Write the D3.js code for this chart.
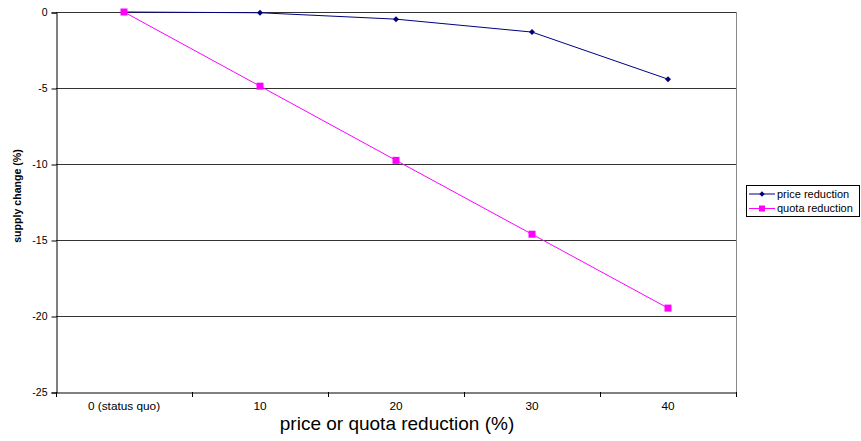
<!DOCTYPE html>
<html><head><meta charset="utf-8">
<script src="https://cdn.jsdelivr.net/npm/d3@7"></script>
<style>body{margin:0;background:#fff}svg{display:block;font-family:Arial,"Liberation Sans",sans-serif}</style>
</head><body><svg id="c" width="861" height="441"></svg>
<script>
const categories = ["0 (status quo)", "10", "20", "30", "40"];
const priceReduction = [0, -0.05, -0.47, -1.32, -4.42];
const quotaReduction = [0, -4.88, -9.76, -14.62, -19.48];
const yTicks = [0, -5, -10, -15, -20, -25];
const seriesNames = ["price reduction", "quota reduction"];

const svg = d3.select("#c");
const FF = "Arial, Liberation Sans, sans-serif";
const L = 56, R = 736, T = 12, B = 392;
const x = d3.scaleBand().domain(categories).range([L, R]);
const y = d3.scaleLinear().domain([-25, 0]).range([B, T]);

// gridlines
svg.append("g").selectAll("line").data(yTicks.filter(d => d !== -25)).join("line")
  .attr("x1", L).attr("x2", R).attr("y1", d => Math.round(y(d)) + 0.5).attr("y2", d => Math.round(y(d)) + 0.5)
  .attr("stroke", "#333").attr("stroke-width", 1);
// right border
svg.append("line").attr("x1", R + 0.5).attr("x2", R + 0.5).attr("y1", T).attr("y2", B)
  .attr("stroke", "#888");

// y axis
const ya = svg.append("g").attr("transform", `translate(${L + 0.5},0.5)`)
  .call(d3.axisLeft(y).tickValues(yTicks).tickSize(5).tickPadding(4).tickFormat(d => String(d)));
ya.select(".domain").attr("stroke", "#000");
ya.selectAll("text").attr("font-size", 10.5).attr("font-family", FF).attr("fill", "#000");

// x axis
const xa = svg.append("g").attr("transform", `translate(0,${B + 0.5})`)
  .call(d3.axisBottom(x).tickSize(0).tickPadding(9));
xa.select(".domain").attr("stroke", "#000");
xa.selectAll("text").attr("font-size", 11.8).attr("font-family", FF).attr("fill", "#000");
// tick marks at category boundaries
svg.append("g").selectAll("line").data(d3.range(categories.length + 1)).join("line")
  .attr("x1", i => Math.round(L + i * x.step()) + 0.5).attr("x2", i => Math.round(L + i * x.step()) + 0.5)
  .attr("y1", B).attr("y2", B + 5).attr("stroke", "#000");

// lines
const cx = d => x(d) + x.bandwidth() / 2;
const line = d3.line().x((d, i) => cx(categories[i])).y(d => y(d));
svg.append("path").datum(quotaReduction).attr("d", line).attr("fill", "none").attr("stroke", "#FF00FF").attr("stroke-width", 1);
svg.append("path").datum(priceReduction).attr("d", line).attr("fill", "none").attr("stroke", "#000080").attr("stroke-width", 1);

svg.append("g").selectAll("path").data(priceReduction).join("path")
  .attr("d", d3.symbol().type(d3.symbolSquare).size(18)())
  .attr("transform", (d, i) => `translate(${cx(categories[i])},${y(d)}) rotate(45)`)
  .attr("fill", "#000080");
svg.append("g").selectAll("rect").data(quotaReduction).join("rect")
  .attr("x", (d, i) => cx(categories[i]) - 3.5).attr("y", d => y(d) - 3.5)
  .attr("width", 7).attr("height", 7).attr("fill", "#FF00FF");

// axis titles
svg.append("text").attr("x", 397).attr("y", 430).attr("text-anchor", "middle")
  .attr("font-size", 19).attr("fill", "#000").text("price or quota reduction (%)");
svg.append("text").attr("transform", `translate(21,196) rotate(-90)`).attr("text-anchor", "middle")
  .attr("font-size", 10.6).attr("font-weight", "bold").attr("fill", "#000").text("supply change (%)");

// legend
const lg = svg.append("g");
lg.append("rect").attr("x", 746.5).attr("y", 185.5).attr("width", 113).attr("height", 31)
  .attr("fill", "#fff").attr("stroke", "#000");
const colors = ["#000080", "#FF00FF"];
seriesNames.forEach((n, i) => {
  const yy = 194 + i * 14.5;
  lg.append("line").attr("x1", 749).attr("x2", 775).attr("y1", yy).attr("y2", yy).attr("stroke", colors[i]);
  if (i === 0) lg.append("path").attr("d", d3.symbol().type(d3.symbolSquare).size(14)())
    .attr("transform", `translate(762,${yy}) rotate(45)`).attr("fill", colors[i]);
  else lg.append("rect").attr("x", 759).attr("y", yy - 3).attr("width", 6).attr("height", 6).attr("fill", colors[i]);
  lg.append("text").attr("x", 777).attr("y", yy + 3.5).attr("font-size", 11).attr("fill", "#000").text(n);
});
</script></body></html>
